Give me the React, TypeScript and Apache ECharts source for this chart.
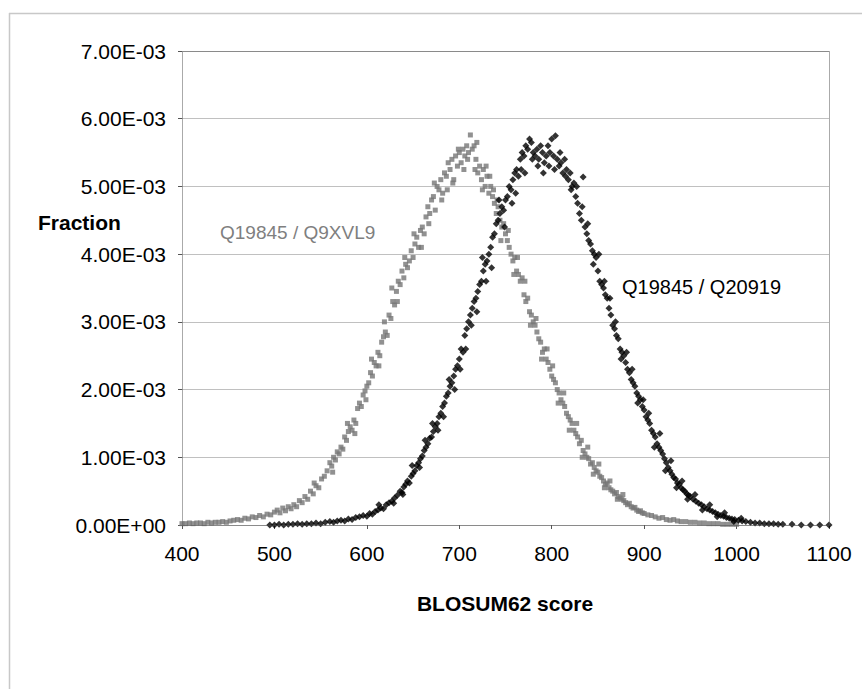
import React, { useEffect, useRef } from "react";
import * as echarts from "echarts";

// Q19845 / Q9XVL9 — [BLOSUM62 score, fraction ×1e-3]
const grayPoints: number[][] = [
  [400,0.02],[404,0.02],[408,0.03],[412,0.02],[416,0.03],[420,0.03],[424,0.02],[428,0.04],[432,0.03],[436,0.04],
  [440,0.04],[444,0.05],[448,0.04],[452,0.06],[456,0.07],[460,0.08],[464,0.07],[468,0.1],[472,0.09],[476,0.12],
  [480,0.11],[484,0.14],[488,0.12],[492,0.16],[496,0.15],[500,0.19],[503,0.22],[506,0.18],[509,0.25],[512,0.21],
  [515,0.27],[518,0.24],[521,0.3],[524,0.27],[527,0.36],[530,0.33],[533,0.42],[536,0.38],[539,0.5],[542,0.46],
  [545,0.58],[548,0.55],[551,0.68],[554,0.72],[557,0.8],[560,0.92],[562,0.87],[564,1.0],[566,0.96],[568,1.08],
  [570,1.05],[572,1.15],[574,1.12],[576,1.3],[578,1.25],[580,1.38],[582,1.45],[584,1.4],[586,1.55],[588,1.5],
  [590,1.72],[592,1.8],[594,1.75],[596,1.92],[598,1.98],[600,2.05],[602,2.1],[604,2.25],[606,2.2],[608,2.4],
  [610,2.35],[612,2.55],[614,2.5],[616,2.7],[618,2.78],[620,2.85],[622,2.8],[624,3.1],[626,3.05],[628,3.3],
  [630,3.25],[632,3.45],[634,3.6],[636,3.55],[638,3.75],[640,3.65],[642,3.85],[644,3.8],[646,3.9],[648,4.05],
  [650,3.95],[652,4.15],[654,4.25],[656,4.1],[658,4.35],[660,4.4],[662,4.3],[664,4.55],[666,4.7],[668,4.6],
  [670,4.8],[672,4.85],[674,4.65],[676,5.0],[678,4.95],[680,5.1],[682,4.9],[684,5.2],[686,5.15],[688,5.35],
  [690,5.25],[692,5.4],[694,5.1],[696,5.45],[698,5.3],[700,5.5],[702,5.35],[704,5.55],[706,5.45],[708,5.6],
  [710,5.5],[712,5.76],[714,5.55],[716,5.6],[718,5.4],[720,5.2],[722,5.3],[724,5.1],[726,5.25],[728,5.0],
  [730,5.15],[732,4.9],[734,5.0],[736,4.85],[738,4.75],[740,4.6],[742,4.7],[744,4.5],[746,4.4],[748,4.45],
  [750,4.3],[752,4.2],[754,4.1],[756,4.0],[758,3.9],[760,3.95],[762,3.75],[764,3.7],[766,3.6],[768,3.65],
  [770,3.4],[772,3.3],[774,3.35],[776,3.15],[778,3.1],[780,3.0],[782,2.95],[784,2.85],[786,2.75],[788,2.7],
  [790,2.55],[792,2.6],[794,2.45],[796,2.4],[798,2.3],[800,2.2],[802,2.15],[804,2.1],[806,2.0],[808,1.95],
  [810,1.85],[812,1.8],[814,1.75],[816,1.65],[818,1.6],[820,1.55],[822,1.5],[824,1.4],[826,1.35],[828,1.3],
  [830,1.2],[832,1.25],[834,1.1],[836,1.05],[838,1.0],[840,0.98],[842,0.9],[844,0.92],[846,0.85],[848,0.8],
  [850,0.78],[852,0.72],[854,0.7],[856,0.65],[858,0.6],[860,0.62],[862,0.55],[864,0.52],[866,0.5],[868,0.46],
  [870,0.48],[872,0.42],[874,0.4],[876,0.38],[878,0.36],[880,0.33],[882,0.3],[884,0.32],[886,0.27],[888,0.25],
  [890,0.26],[892,0.22],[894,0.2],[896,0.21],[898,0.18],[900,0.17],[904,0.15],[908,0.14],[912,0.12],[916,0.1],
  [920,0.11],[924,0.08],[928,0.07],[932,0.08],[936,0.06],[940,0.05],[945,0.05],[950,0.04],[955,0.04],[960,0.03],
  [965,0.03],[970,0.02],[975,0.02],[980,0.02],[985,0.01],[990,0.01],[995,0.01],[1000,0.01],
  [543,0.62],[563,0.78],[579,1.5],[587,1.35],[599,1.85],[605,2.45],[613,2.35],[619,3.0],[627,3.5],[633,3.3],
  [641,3.95],[651,4.3],[659,4.1],[667,4.45],[673,5.05],[681,4.8],[687,4.95],[693,5.05],[699,5.55],[705,5.25],
  [709,5.4],[717,5.25],[719,5.65],[725,4.95],[729,5.3],[733,5.15],[737,4.95],[741,4.8],[745,4.2],[753,4.35],
  [759,3.7],[763,3.95],[771,3.6],[777,2.95],[783,3.05],[789,2.45],[795,2.6],[801,2.35],[807,1.8],[813,1.95],
  [819,1.4],[827,1.5],[833,1.0],[839,1.15],[845,0.75],[851,0.9],[857,0.55],[863,0.65],[871,0.38],[877,0.45]
];

// Q19845 / Q20919 — [BLOSUM62 score, fraction ×1e-3]
const blackPoints: number[][] = [
  [495,0.0],[500,0.0],[505,0.01],[510,0.0],[515,0.01],[520,0.01],[525,0.02],[530,0.01],[535,0.02],[540,0.02],
  [545,0.03],[550,0.02],[555,0.04],[560,0.05],[564,0.04],[568,0.06],[572,0.07],[576,0.06],[580,0.09],[584,0.08],
  [588,0.11],[592,0.12],[596,0.14],[600,0.13],[603,0.17],[606,0.16],[609,0.2],[612,0.22],[615,0.25],[618,0.24],
  [621,0.3],[624,0.33],[627,0.35],[630,0.4],[633,0.44],[636,0.5],[638,0.48],[640,0.56],[642,0.6],[644,0.65],
  [646,0.62],[648,0.72],[650,0.76],[652,0.8],[654,0.88],[656,0.92],[658,0.98],[660,1.02],[662,1.1],[664,1.15],
  [666,1.2],[668,1.28],[670,1.3],[672,1.38],[674,1.45],[676,1.5],[678,1.6],[680,1.65],[682,1.75],[684,1.8],
  [686,1.9],[688,1.95],[690,2.05],[692,2.1],[694,2.2],[696,2.3],[698,2.35],[700,2.45],[702,2.6],[704,2.55],
  [706,2.8],[708,2.9],[710,3.0],[712,3.1],[714,3.2],[716,3.3],[718,3.35],[720,3.45],[722,3.55],[724,3.6],
  [726,3.75],[728,3.85],[730,3.9],[732,4.0],[734,4.1],[736,4.25],[738,4.3],[740,4.45],[742,4.5],[744,4.6],
  [746,4.7],[748,4.65],[750,4.8],[752,4.85],[754,5.0],[756,4.95],[758,5.1],[760,5.2],[762,5.25],[764,5.15],
  [766,5.4],[768,5.5],[770,5.45],[772,5.6],[774,5.55],[776,5.7],[778,5.65],[780,5.5],[782,5.45],[784,5.55],
  [786,5.4],[788,5.6],[790,5.5],[792,5.35],[794,5.45],[796,5.6],[798,5.5],[800,5.7],[802,5.45],[804,5.75],
  [806,5.4],[808,5.3],[810,5.35],[812,5.2],[814,5.4],[816,5.25],[818,5.1],[820,5.2],[822,5.0],[824,5.05],
  [826,4.85],[828,4.75],[830,4.6],[832,4.5],[834,5.14],[836,4.4],[838,4.3],[840,4.2],[842,4.15],[844,4.05],
  [846,4.0],[848,3.95],[850,3.75],[852,3.6],[854,3.55],[856,3.5],[858,3.4],[860,3.35],[862,3.2],[864,3.1],
  [866,2.95],[868,2.9],[870,2.8],[872,2.75],[874,2.6],[876,2.55],[878,2.5],[880,2.4],[882,2.3],[884,2.25],
  [886,2.15],[888,2.1],[890,2.05],[892,1.95],[894,1.9],[896,1.85],[898,1.75],[900,1.7],[902,1.6],[904,1.55],
  [906,1.5],[908,1.4],[910,1.35],[912,1.3],[914,1.2],[916,1.15],[918,1.1],[920,1.05],[922,0.98],[924,0.92],
  [926,0.85],[928,0.8],[930,0.75],[932,0.7],[934,0.68],[936,0.62],[938,0.6],[940,0.55],[942,0.52],[944,0.5],
  [946,0.46],[948,0.44],[950,0.42],[953,0.38],[956,0.35],[959,0.32],[962,0.3],[965,0.27],[968,0.24],[971,0.22],
  [974,0.2],[977,0.18],[980,0.16],[983,0.14],[986,0.13],[989,0.11],[992,0.1],[995,0.09],[998,0.08],[1002,0.07],
  [1006,0.06],[1010,0.05],[1015,0.04],[1020,0.03],[1025,0.03],[1030,0.02],[1035,0.02],[1040,0.02],[1045,0.01],
  [1050,0.01],[1060,0.01],[1070,0.0],[1080,0.0],[1090,0.0],[1100,0.0],
  [613,0.3],[629,0.32],[639,0.45],[649,0.88],[657,0.85],[663,1.25],[671,1.5],[677,1.4],[683,1.6],[689,2.15],
  [695,2.0],[701,2.3],[707,2.6],[713,2.95],[719,3.15],[725,3.95],[729,3.6],[735,3.8],[743,4.8],[749,4.4],
  [757,4.75],[761,4.9],[767,5.25],[771,5.2],[779,5.4],[785,5.3],[791,5.2],[797,5.3],[803,5.25],[809,5.5],
  [815,5.15],[821,4.95],[827,5.0],[833,4.7],[839,4.45],[845,3.85],[851,4.0],[857,3.6],[863,3.35],[869,3.0],
  [875,2.45],[881,2.55],[887,2.3],[893,1.8],[899,1.85],[905,1.65],[911,1.15],[917,1.35],[923,0.8],[929,0.95],
  [935,0.55],[941,0.65],[947,0.38],[955,0.45],[963,0.22],[971,0.3],[979,0.12],[987,0.18],[997,0.05],[1005,0.1]
];

const yTickLabels = ["0.00E+00","1.00E-03","2.00E-03","3.00E-03","4.00E-03","5.00E-03","6.00E-03","7.00E-03"];
const seriesNames = ["Q19845 / Q9XVL9", "Q19845 / Q20919"];
const xAxisTitle = "BLOSUM62 score";
const yAxisTitle = "Fraction";

const FONT = "'Liberation Sans', Arial, sans-serif";

export default function App() {
  const ref = useRef<HTMLDivElement>(null);
  useEffect(() => {
    if (!ref.current) return;
    const chart = echarts.init(ref.current, null, { renderer: "svg" });
    const gl = 182, gt = 51, gw = 647, gh = 474;
    chart.setOption({
      animation: false,
      backgroundColor: "#ffffff",
      textStyle: { fontFamily: FONT },
      grid: { left: gl, top: gt, width: gw, height: gh, show: false },
      xAxis: {
        type: "value",
        min: 400,
        max: 1100,
        interval: 100,
        axisLine: { show: false },
        axisTick: { show: true, length: 4, lineStyle: { color: "#555" } },
        axisLabel: { color: "#000", fontSize: 21, margin: 18, fontFamily: FONT, formatter: (v: number) => String(v) },
        splitLine: { show: false },
      },
      yAxis: {
        type: "value",
        min: 0,
        max: 7,
        interval: 1,
        axisLine: { show: false },
        axisTick: { show: true, length: 4, lineStyle: { color: "#555" } },
        axisLabel: {
          color: "#000",
          fontSize: 21,
          margin: 16,
          fontFamily: FONT,
          formatter: (v: number) => yTickLabels[Math.round(v)] ?? "",
        },
        splitLine: { show: true, lineStyle: { color: "#c0c0c0", width: 1 } },
      },
      series: [
        {
          name: seriesNames[0],
          type: "scatter",
          data: grayPoints,
          symbol: "rect",
          symbolSize: 5,
          itemStyle: { color: "#767676" },
          z: 2,
        },
        {
          name: seriesNames[1],
          type: "scatter",
          data: blackPoints,
          symbol: "diamond",
          symbolSize: 7,
          itemStyle: { color: "#000000" },
          z: 3,
        },
      ],
      graphic: [
        { type: "line", shape: { x1: 9, y1: 13.5, x2: 862, y2: 13.5 }, style: { stroke: "#c8c8c8", lineWidth: 1.5 } },
        { type: "line", shape: { x1: 9.5, y1: 13, x2: 9.5, y2: 689 }, style: { stroke: "#c8c8c8", lineWidth: 1.5 } },
        {
          type: "rect",
          shape: { x: gl + 0.5, y: gt + 0.5, width: gw, height: gh },
          style: { fill: "none", stroke: "#555", lineWidth: 1, lineDash: [1, 1] },
          z: 10,
        },
        {
          type: "text",
          x: 38,
          y: 222,
          style: { text: yAxisTitle, font: `bold 21px ${FONT}`, fill: "#000", verticalAlign: "middle" },
        },
        {
          type: "text",
          x: 505,
          y: 603,
          style: { text: xAxisTitle, font: `bold 21px ${FONT}`, fill: "#000", align: "center", verticalAlign: "middle" },
        },
        {
          type: "text",
          x: 220,
          y: 232,
          style: { text: seriesNames[0], font: `19px ${FONT}`, fill: "#7f7f7f", verticalAlign: "middle" },
        },
        {
          type: "text",
          x: 622,
          y: 287,
          style: { text: seriesNames[1], font: `20px ${FONT}`, fill: "#000", verticalAlign: "middle" },
        },
      ],
    });
    return () => chart.dispose();
  }, []);
  return (
    <div
      ref={ref}
      style={{ position: "absolute", left: 0, top: 0, width: 862, height: 689, background: "#fff" }}
    />
  );
}
